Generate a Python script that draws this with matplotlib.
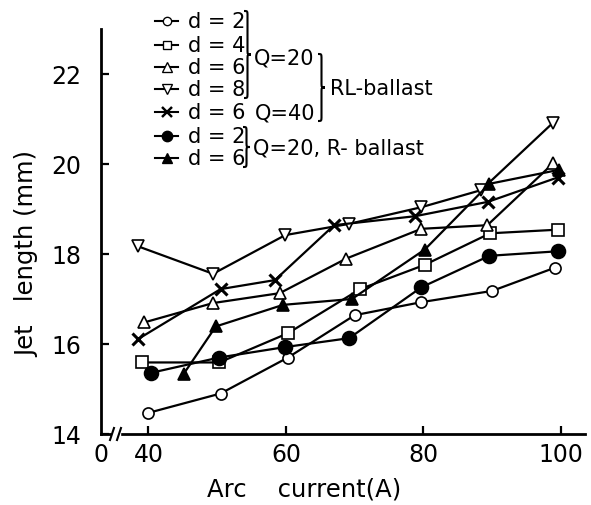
import matplotlib.pyplot as plt
from matplotlib.path import Path
from matplotlib.patches import PathPatch, Rectangle
from matplotlib.lines import Line2D

plt.rcParams['font.family'] = ['DejaVu Sans']

# data
x_d2 = [40, 50.5, 60.3, 70, 79.7, 90, 99.2]
y_d2 = [14.47, 14.9, 15.7, 16.64, 16.93, 17.18, 17.7]
x_d4 = [39.1, 50.3, 60.3, 70.8, 80.2, 89.7, 99.5]
y_d4 = [15.59, 15.59, 16.24, 17.22, 17.76, 18.46, 18.54]
x_d6 = [39.4, 49.4, 59.1, 68.8, 79.7, 89.3, 98.9]
y_d6 = [16.48, 16.91, 17.13, 17.9, 18.56, 18.64, 20.02]
x_d8 = [38.5, 49.4, 59.9, 69.2, 79.7, 88.4, 98.8]
y_d8 = [18.17, 17.56, 18.42, 18.67, 19.04, 19.42, 20.91]
x_q40 = [38.5, 50.5, 58.4, 67.0, 78.8, 89.4, 99.5]
y_q40 = [16.11, 17.22, 17.42, 18.64, 18.84, 19.16, 19.7]
x_r2 = [40.4, 50.3, 59.8, 69.2, 79.7, 89.6, 99.5]
y_r2 = [15.36, 15.7, 15.93, 16.13, 17.26, 17.96, 18.06]
x_r6 = [45.1, 49.8, 59.6, 69.6, 80.2, 89.6, 99.7]
y_r6 = [15.33, 16.39, 16.87, 17.0, 18.1, 19.56, 19.87]

labels = ["d = 2", "d = 4", "d = 6", "d = 8", "d = 6", "d = 2", "d = 6"]
xticks = [40, 60, 80, 100]
yticks = [14, 16, 18, 20, 22]

styles = [
    dict(marker='o', mfc='white', ms=8, mew=1.2),
    dict(marker='s', mfc='white', ms=8, mew=1.2),
    dict(marker='^', mfc='white', ms=9, mew=1.2),
    dict(marker='v', mfc='white', ms=9, mew=1.2),
    dict(marker='x', mfc='black', ms=9, mew=2.2),
    dict(marker='o', mfc='black', ms=10, mew=1.2),
    dict(marker='^', mfc='black', ms=9, mew=1.2),
]
series = [(x_d2, y_d2), (x_d4, y_d4), (x_d6, y_d6), (x_d8, y_d8),
          (x_q40, y_q40), (x_r2, y_r2), (x_r6, y_r6)]

fig = plt.figure(figsize=(5.91, 5.06), dpi=100)
ax = fig.add_axes([101 / 591, 71 / 506, 484 / 591, 405 / 506])

for (xs, ys), st in zip(series, styles):
    ax.plot(xs, ys, color='black', lw=1.6, mec='black', **st)

ax.set_xlim(33.1, 103.5)
ax.set_ylim(14, 23.0)
ax.set_xticks([33.1] + xticks)
ax.set_xticklabels(['0'] + [str(t) for t in xticks])
ax.set_yticks(yticks)
ax.tick_params(direction='in', length=6, width=1.6, labelsize=17)
ax.tick_params(axis='x', pad=6)
ax.tick_params(axis='y', pad=14)
ax.xaxis.get_major_ticks()[0].tick1line.set_visible(False)
for s in ['top', 'right']:
    ax.spines[s].set_visible(False)
for s in ['left', 'bottom']:
    ax.spines[s].set_linewidth(2)

# overlay in pixel coordinates for labels, legend and braces
ov = fig.add_axes([0, 0, 1, 1])
ov.set_xlim(0, 591)
ov.set_ylim(506, 0)
ov.axis('off')
ov.patch.set_visible(False)

# axis break
ov.add_patch(Rectangle((112, 430), 8, 10, color='white'))
ov.plot([110, 114], [441, 429], color='black', lw=1.5)
ov.plot([117, 121], [441, 429], color='black', lw=1.5)

ov.text(27, 254, "Jet   length (mm)", rotation=90, ha='center', va='center', fontsize=17.5)
ov.text(304, 490, "Arc    current(A)", ha='center', va='center', fontsize=17.5)

# legend
rows = [22, 46, 68, 90, 113, 137, 159]
for lab, st, yr in zip(labels, styles, rows):
    ov.add_line(Line2D([155, 178], [yr, yr], color='black', lw=1.5))
    ov.plot([166.5], [yr], color='black', marker=st['marker'], mfc=st['mfc'],
            mec='black', ms=st['ms'] * 0.75, mew=st['mew'] * 0.8)
    ov.text(188, yr, lab, ha='left', va='center', fontsize=15)


def brace(x, top, bot, w=7):
    mid = (top + bot) / 2
    c = 5
    h = x + w / 2
    verts = [(x, top), (h, top), (h, top), (h, top + c),
             (h, mid - c),
             (h, mid), (h, mid), (x + w, mid),
             (h, mid), (h, mid), (h, mid + c),
             (h, bot - c),
             (h, bot), (h, bot), (x, bot)]
    codes = [Path.MOVETO, Path.CURVE4, Path.CURVE4, Path.CURVE4,
             Path.LINETO,
             Path.CURVE4, Path.CURVE4, Path.CURVE4,
             Path.CURVE4, Path.CURVE4, Path.CURVE4,
             Path.LINETO,
             Path.CURVE4, Path.CURVE4, Path.CURVE4]
    ov.add_patch(PathPatch(Path(verts, codes), fill=False, lw=1.5, color='black'))


brace(244, 12, 99)
ov.text(254, 58, "Q=20", ha='left', va='center', fontsize=15)
ov.text(255, 113, "Q=40", ha='left', va='center', fontsize=15)
brace(318, 55, 122)
ov.text(330, 89, "RL-ballast", ha='left', va='center', fontsize=15)
brace(243, 128, 168)
ov.text(253, 148, "Q=20, R- ballast", ha='left', va='center', fontsize=15)

fig.savefig("out.png", dpi=100)
